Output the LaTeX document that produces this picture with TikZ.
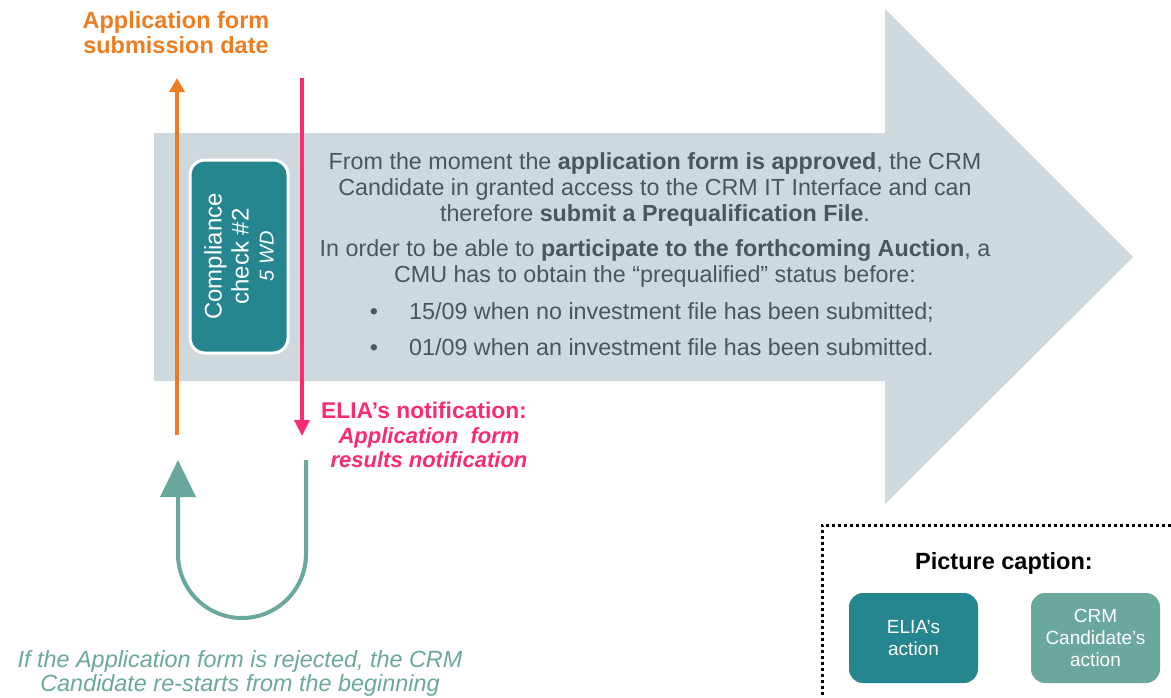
\documentclass[tikz,border=0pt]{standalone}
\usepackage{fontspec}
\setmainfont{Liberation Sans}
\usetikzlibrary{arrows.meta}
\definecolor{arrowfill}{HTML}{CDD9DC}
\definecolor{txtgray}{HTML}{4A565C}
\definecolor{orng}{HTML}{EE7D22}
\definecolor{pnk}{HTML}{FB2C6E}
\definecolor{tealdark}{HTML}{25868F}
\definecolor{teallight}{HTML}{6AA89E}
\tikzset{
  bodytxt/.style={text=txtgray, font=\fontsize{23.3}{26}\selectfont, align=center, inner sep=0pt},
  actbox/.style={rounded corners=14pt, minimum width=129pt, minimum height=90pt, text=white, font=\fontsize{19}{22}\selectfont, align=center, inner sep=0pt},
}
\begin{document}
\begin{tikzpicture}[x=1pt,y=-1pt]
\useasboundingbox (0,0) rectangle (1171,697);
% big arrow
\fill[arrowfill] (154,133) -- (885,133) -- (885,9) -- (1133,257) -- (885,504) -- (885,381) -- (154,381) -- cycle;
% compliance box
\node[rotate=90, fill=tealdark, draw=white, line width=3pt, rounded corners=15pt,
      minimum width=193pt, minimum height=98pt, inner sep=0pt, text=white, align=center,
      font=\fontsize{24}{27}\selectfont] (cc) at (239,256.5)
  {Compliance\\check \#2\\[-2pt]{\fontsize{20}{24}\selectfont\itshape 5 WD}};
% orange arrow
\coordinate (o1) at (177,435);
\coordinate (o2) at (177,78);
\draw[orng, line width=3.5pt, -{Triangle[width=15pt,length=14pt]}] (o1) -- (o2);
% pink arrow
\coordinate (p1) at (302,78);
\coordinate (p2) at (302,436);
\draw[pnk, line width=3.5pt, -{Triangle[width=15pt,length=16pt]}] (p1) -- (p2);
% teal U arrow
\coordinate (u1) at (306,460);
\coordinate (u2) at (178,460);
\draw[teallight, line width=4pt, -{Triangle[width=35pt,length=37pt]}] (u1) -- (306,554) arc[start angle=0, end angle=-180, radius=64pt] -- (u2);
% titles
\node[text=orng, font=\bfseries\fontsize{23.5}{25}\selectfont, align=center, inner sep=0pt] (ttl) at (176,33) {Application form\\submission date};
\node[text=pnk, font=\bfseries\fontsize{22.8}{24}\selectfont, inner sep=0pt] (notif) at (424,410) {ELIA’s notification:};
\node[text=pnk, font=\bfseries\itshape\fontsize{22}{23.5}\selectfont, align=center, inner sep=0pt] (notif2) at (429,447.5) {Application\ \ form\\results notification};
\node[text=teallight, font=\itshape\fontsize{23.4}{24}\selectfont, align=center, inner sep=0pt] (rej) at (240,673) {If the Application form is rejected, the CRM\\Candidate re-starts from the beginning};
% body text
\node[bodytxt] (para1) at (655,189) {From the moment the \textbf{application form is approved}, the CRM\\Candidate in granted access to the CRM IT Interface and can\\therefore \textbf{submit a Prequalification File}.};
\node[bodytxt] (para2) at (655,263) {In order to be able to \textbf{participate to the forthcoming Auction}, a\\CMU has to obtain the “prequalified” status before:};
\node[bodytxt, anchor=base] (d1) at (374,319.5) {•};
\node[bodytxt, anchor=base] (d2) at (374,355.5) {•};
\node[bodytxt, anchor=base west] (b1) at (409,319.5) {15/09 when no investment file has been submitted;};
\node[bodytxt, anchor=base west] (b2) at (409,355.5) {01/09 when an investment file has been submitted.};
% caption
\draw[black, line width=3pt, dash pattern=on 3pt off 3pt] (1171,525) -- (822,525) -- (822,697);
\node[font=\bfseries\fontsize{23.5}{24}\selectfont, inner sep=0pt] (cap) at (1004,563) {Picture caption:};
\node[actbox, fill=tealdark] (ea) at (913.5,638) {ELIA’s\\action};
\node[actbox, fill=teallight] (ca) at (1095.5,638) {CRM\\Candidate’s\\action};
\end{tikzpicture}
\end{document}
